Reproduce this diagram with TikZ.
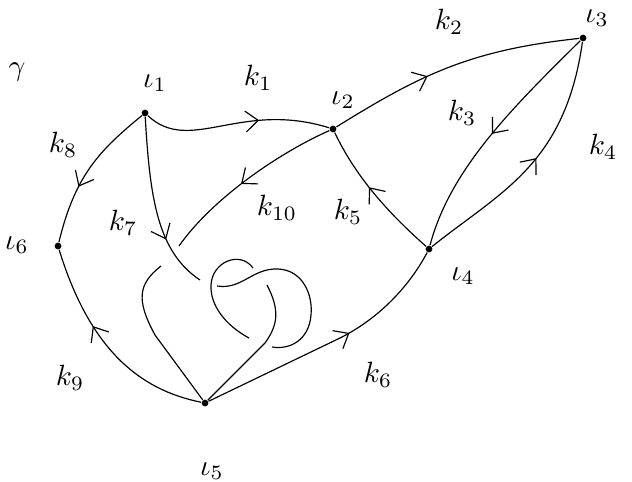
\documentclass[tikz,border=0pt]{standalone}
\usepackage{amsmath,amssymb}
\usepackage{tikz}
\usetikzlibrary{arrows.meta,decorations.markings}

\begin{document}
\begin{tikzpicture}[
      x=0.012cm, y=-0.012cm,
      vert/.style={circle, fill, inner sep=0pt, minimum size=2.3pt},
      lbl/.style={inner sep=0pt},
      arr/.style={postaction={decorate, decoration={markings,
                  mark=at position #1 with
                  {\arrow{Straight Barb[length=4.3pt,width=7.1pt]}}}}}
    ]
    \useasboundingbox (0,0) rectangle (632,481);

    % vertices
    \node[vert] (i1) at (145,113) {};
    \node[vert] (i2) at (333,129) {};
    \node[vert] (i3) at (583,38) {};
    \node[vert] (i4) at (429,249) {};
    \node[vert] (i5) at (205,403) {};
    \node[vert] (i6) at (58,246) {};

    % labels
    \node[lbl] (gam) at (17,72) {$\gamma$};
    \node[lbl] (li1) at (155,83) {$\iota_1$};
    \node[lbl] (li2) at (343,100) {$\iota_2$};
    \node[lbl] (li3) at (597,18) {$\iota_3$};
    \node[lbl] (li4) at (463,276) {$\iota_4$};
    \node[lbl] (li5) at (212,471) {$\iota_5$};
    \node[lbl] (li6) at (17,245) {$\iota_6$};
    \node[lbl] (lk1) at (258,78) {$k_1$};
    \node[lbl] (lk2) at (449,22) {$k_2$};
    \node[lbl] (lk3) at (462,113) {$k_3$};
    \node[lbl] (lk4) at (603,147) {$k_4$};
    \node[lbl] (lk5) at (348,212) {$k_5$};
    \node[lbl] (lk6) at (378,375) {$k_6$};
    \node[lbl] (lk7) at (123,223) {$k_7$};
    \node[lbl] (lk8) at (63,145) {$k_8$};
    \node[lbl] (lk9) at (70,378) {$k_9$};
    \node[lbl] (lk10) at (277,208) {$k_{10}$};

    % outer edges
    \draw[arr=0.62] (i1) .. controls (190,155) and (240,100) .. (i2);
    \draw[arr=0.40] (i2) .. controls (420,75) and (470,50) .. (i3);
    \draw[arr=0.50] (i3) .. controls (510,110) and (450,170) .. (i4);
    \draw[arr=0.52] (i4) .. controls (500,192) and (565,165) .. (i3);
    \draw[arr=0.56] (i4) .. controls (385,210) and (355,175) .. (i2);
    \draw[arr=0.58] (i5) -- (340,338) .. controls (380,318) and (410,285) .. (i4);
    \draw[arr=0.62] (i1) .. controls (100,150) and (75,175) .. (i6);
    \draw[arr=0.62] (i5) .. controls (140,390) and (90,350) .. (i6);

    % gap ends of the knot
    \coordinate (a1) at (200,280);
    \coordinate (a2) at (217,286);
    \coordinate (b1) at (272,347);
    \coordinate (b2) at (249,338);
    \coordinate (c1) at (253,268);
    \coordinate (c2) at (267,285);
    \coordinate (d1) at (179,246);
    \coordinate (d2) at (161,266);

    % k7 through the knot
    \draw[arr=0.70] (i1) .. controls (150,200) and (158,252) .. (a1);
    \draw (a2) .. controls (242,290) and (252,268) .. (278,269)
               .. controls (303,270) and (313,295) .. (311,315)
               .. controls (309,340) and (290,350) .. (b1);
    \draw (b2) .. controls (225,325) and (210,305) .. (211,285)
               .. controls (212,262) and (240,250) .. (c1);
    \draw (c2) .. controls (280,310) and (278,325) .. (265,343) -- (i5);

    % k10
    \draw[arr=0.54] (i2) .. controls (285,150) and (215,195) .. (d1);
    \draw (d2) .. controls (138,284) and (136,300) .. (155,335) -- (i5);
  \end{tikzpicture}
\end{document}
